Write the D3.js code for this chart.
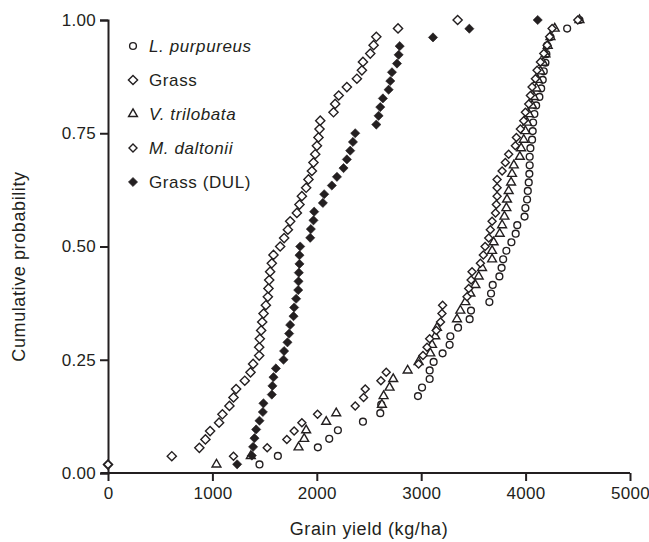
<!DOCTYPE html>
<html>
<head>
<meta charset="utf-8">
<script src="https://cdn.jsdelivr.net/npm/d3@7"></script>
<style>
  body { margin: 0; background: #fff; }
  text { font-family: "Liberation Sans", Arial, sans-serif; fill: #231f20; }
</style>
</head>
<body>
<div id="chart"></div>
<script>
// grain yield values (kg/ha), sorted per treatment
const lPurpureus = [1451,1627,2010,2119,2202,2442,2608,2617,2969,3008,3081,3081,3119,3205,3272,3279,3353,3464,3477,3653,3669,3685,3749,3770,3785,3816,3864,3905,3920,3990,3998,4014,4021,4030,4036,4039,4039,4046,4062,4068,4072,4084,4101,4132,4149,4164,4174,4190,4199,4206,4238,4398,4516]
const grass = [0,611,875,933,978,1064,1096,1163,1202,1227,1310,1365,1390,1448,1448,1454,1467,1477,1490,1512,1531,1537,1544,1553,1569,1585,1649,1687,1723,1745,1809,1834,1857,1898,1920,1953,1968,1985,2001,2016,2026,2033,2160,2176,2210,2288,2384,2432,2442,2512,2544,2570,2778,3349]
const vTrilobata = [1039,1368,1825,1879,1898,2090,2186,2624,2640,2697,2732,2870,2975,3087,3104,3135,3151,3343,3375,3423,3471,3519,3551,3583,3679,3679,3694,3752,3775,3797,3816,3822,3838,3861,3870,3887,3945,3957,3982,3998,4014,4030,4062,4078,4104,4116,4142,4168,4190,4212,4238,4279,4516]
const mDaltonii = [0,1202,1525,1713,1783,1857,2007,2368,2448,2464,2614,2665,2975,3017,3056,3081,3145,3185,3199,3205,3439,3455,3478,3487,3567,3595,3612,3647,3662,3679,3712,3720,3727,3727,3727,3775,3806,3838,3902,3912,3950,3982,3998,4030,4046,4062,4094,4110,4142,4174,4206,4230,4254,4500]
const grassDUL = [1237,1378,1390,1403,1419,1451,1483,1489,1569,1575,1585,1608,1681,1687,1719,1735,1745,1777,1783,1802,1822,1825,1828,1834,1834,1841,1937,1943,1968,1975,2058,2071,2144,2193,2256,2288,2320,2346,2368,2570,2592,2608,2633,2688,2704,2720,2768,2784,2794,3113,3461,4116]

const seriesNames = ["L. purpureus", "Grass", "V. trilobata", "M. daltonii", "Grass (DUL)"]
const italicNames = [true, false, true, true, false]
const xTicks = [0, 1000, 2000, 3000, 4000, 5000]
const yTicks = [0, 0.25, 0.5, 0.75, 1]

const INK = "#231f20"
const MARGIN = { TOP: 20, BOTTOM: 69, LEFT: 108, RIGHT: 19 }
const WIDTH = 649 - MARGIN.LEFT - MARGIN.RIGHT
const HEIGHT = 542 - MARGIN.TOP - MARGIN.BOTTOM

const svg = d3.select("#chart").append("svg")
    .attr("width", 649)
    .attr("height", 542)
const g = svg.append("g")
    .attr("transform", "translate(" + MARGIN.LEFT + "," + MARGIN.TOP + ")")

const x = d3.scaleLinear().domain([0, 5000]).range([0, WIDTH])
const y = d3.scaleLinear().domain([0, 1]).range([HEIGHT, 0])

// marker shapes
const diamond = r => "M0," + (-r) + "L" + r + ",0L0," + r + "L" + (-r) + ",0Z"
const tri = d3.symbol().type(d3.symbolTriangle).size(34)()
const markers = [
    { path: null, r: 3.4, fill: "#fff" },                 // circle
    { path: diamond(4.6), fill: "#fff" },
    { path: tri, fill: "#fff" },
    { path: diamond(4.0), fill: "#fff" },
    { path: diamond(4.6), fill: INK }
]

function drawMarker(sel, i) {
    const m = markers[i]
    if (m.path === null) {
        sel.append("circle").attr("r", m.r)
            .attr("fill", m.fill).attr("stroke", INK).attr("stroke-width", 1.4)
    } else {
        sel.append("path").attr("d", m.path)
            .attr("fill", m.fill).attr("stroke", INK).attr("stroke-width", i === 4 ? 0.6 : 1.4)
    }
}

// axes
const xAxis = g.append("g")
    .attr("transform", "translate(0," + HEIGHT + ")")
    .call(d3.axisBottom(x).tickValues(xTicks).tickFormat(d3.format("d")).tickSizeOuter(0).tickSize(8).tickPadding(6))
const yAxis = g.append("g")
    .call(d3.axisLeft(y).tickValues(yTicks).tickFormat(d3.format(".2f")).tickSizeOuter(0).tickSize(8).tickPadding(4))

;[xAxis, yAxis].forEach(a => {
    a.select(".domain").attr("stroke", INK).attr("stroke-width", 2)
    a.selectAll(".tick line").attr("stroke", INK).attr("stroke-width", 2)
    a.selectAll(".tick text").attr("fill", INK)
        .style("font-size", "17px").style("letter-spacing", "0.3px")
        .style("font-family", "'Liberation Sans', Arial, sans-serif")
})
// x axis runs a little past the y axis like the original
xAxis.select(".domain").attr("d", "M-7,0H" + WIDTH)

// titles
g.append("text")
    .attr("x", WIDTH / 2)
    .attr("y", HEIGHT + 62)
    .attr("text-anchor", "middle")
    .style("font-size", "18px").style("letter-spacing", "0.6px")
    .text("Grain yield (kg/ha)")

g.append("text")
    .attr("x", -(HEIGHT / 2) - 20)
    .attr("y", -83)
    .attr("text-anchor", "middle")
    .attr("transform", "rotate(-90)")
    .style("font-size", "18px").style("letter-spacing", "0.6px")
    .text("Cumulative probability")

// points: cumulative probability = rank / n
const allSeries = [lPurpureus, grass, vTrilobata, mDaltonii, grassDUL]
allSeries.forEach((vals, i) => {
    const n = vals.length
    g.append("g").selectAll("g")
        .data(vals.map((v, k) => ({ v: v, p: (k + 1) / n })))
        .enter().append("g")
        .attr("transform", d => "translate(" + x(d.v) + "," + y(d.p) + ")")
        .each(function () { drawMarker(d3.select(this), i) })
})

// legend
const legend = g.append("g").attr("transform", "translate(25,26)")
seriesNames.forEach((name, i) => {
    const row = legend.append("g").attr("transform", "translate(0," + i * 34 + ")")
    drawMarker(row, i)
    row.append("text")
        .attr("x", 16).attr("y", 6)
        .style("font-size", "17px").style("letter-spacing", "0.6px")
        .style("font-style", italicNames[i] ? "italic" : "normal")
        .text(name)
})
</script>
</body>
</html>
